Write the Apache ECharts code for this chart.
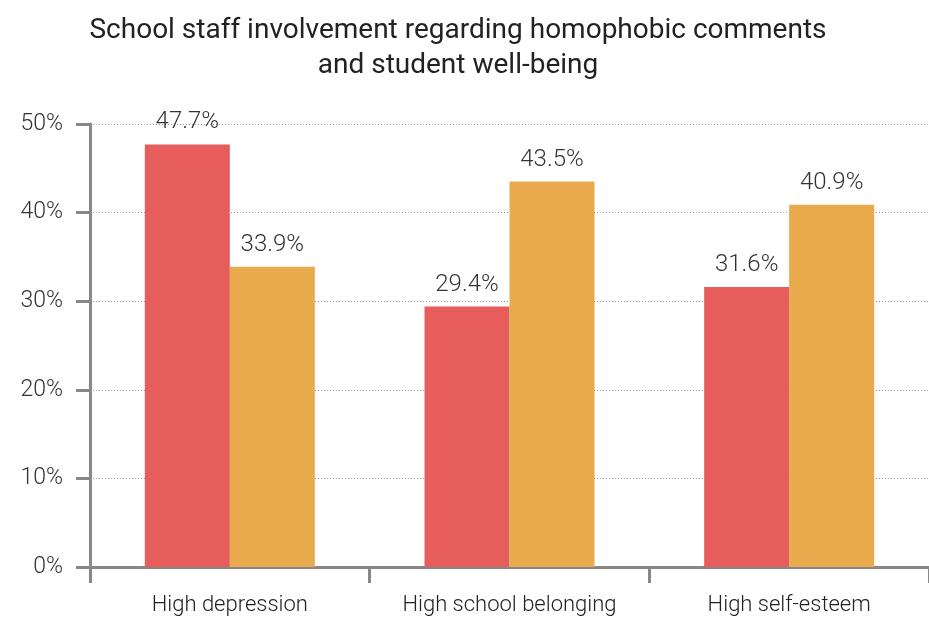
<!DOCTYPE html>
<html>
<head>
<meta charset="utf-8">
<script src="https://cdn.jsdelivr.net/npm/echarts@6/dist/echarts.min.js"></script>
<style>
html,body{margin:0;padding:0;background:#fff;}
#chart{width:929px;height:617px;}
</style>
</head>
<body>
<div id="chart"></div>
<script>
const categories = ['High depression', 'High school belonging', 'High self-esteem'];
const seriesNames = ['Group 1', 'Group 2'];
const seriesA = [47.7, 29.4, 31.6];
const seriesB = [33.9, 43.5, 40.9];
const yTicks = [0, 10, 20, 30, 40, 50];
const titleText = 'School staff involvement regarding homophobic comments\nand student well-being';

const chart = echarts.init(document.getElementById('chart'));
const labelStyle = {
  show: true,
  position: 'top',
  distance: 10,
  formatter: p => p.value.toFixed(1) + '%',
  color: '#333',
  fontSize: 24,
  fontFamily: 'Roboto',
  fontWeight: 300
};
chart.setOption({
  animation: false,
  title: {
    text: titleText,
    left: 453,
    textAlign: 'center',
    top: 8,
    textStyle: {
      fontFamily: 'Roboto',
      fontWeight: 400,
      fontSize: 28,
      lineHeight: 35,
      color: '#222'
    }
  },
  grid: { left: 90, right: 0, top: 124, bottom: 50 },
  xAxis: {
    type: 'category',
    data: categories,
    axisLine: { lineStyle: { color: '#888', width: 3 } },
    axisTick: { show: true, interval: 0, length: 16, lineStyle: { color: '#888', width: 3 } },
    axisLabel: { interval: 0, color: '#222', fontSize: 22, fontFamily: 'Roboto', fontWeight: 300, margin: 27 }
  },
  yAxis: {
    type: 'value',
    min: yTicks[0],
    max: yTicks[yTicks.length - 1],
    interval: 10,
    axisLine: { show: true, lineStyle: { color: '#888', width: 3 } },
    axisTick: { show: true, length: 14, lineStyle: { color: '#888', width: 3 } },
    axisLabel: { formatter: v => v + '%', color: '#333', fontSize: 23, fontFamily: 'Roboto', fontWeight: 300, margin: 27 },
    splitLine: { show: true, lineStyle: { color: '#999', type: [1, 2], width: 1 } }
  },
  series: [
    { name: seriesNames[0], type: 'bar', data: seriesA, barWidth: 85, barGap: '0%',
      itemStyle: { color: '#E65D5C' }, label: labelStyle },
    { name: seriesNames[1], type: 'bar', data: seriesB, barWidth: 85,
      itemStyle: { color: '#E8AA4D' }, label: labelStyle }
  ]
});
</script>
</body>
</html>
